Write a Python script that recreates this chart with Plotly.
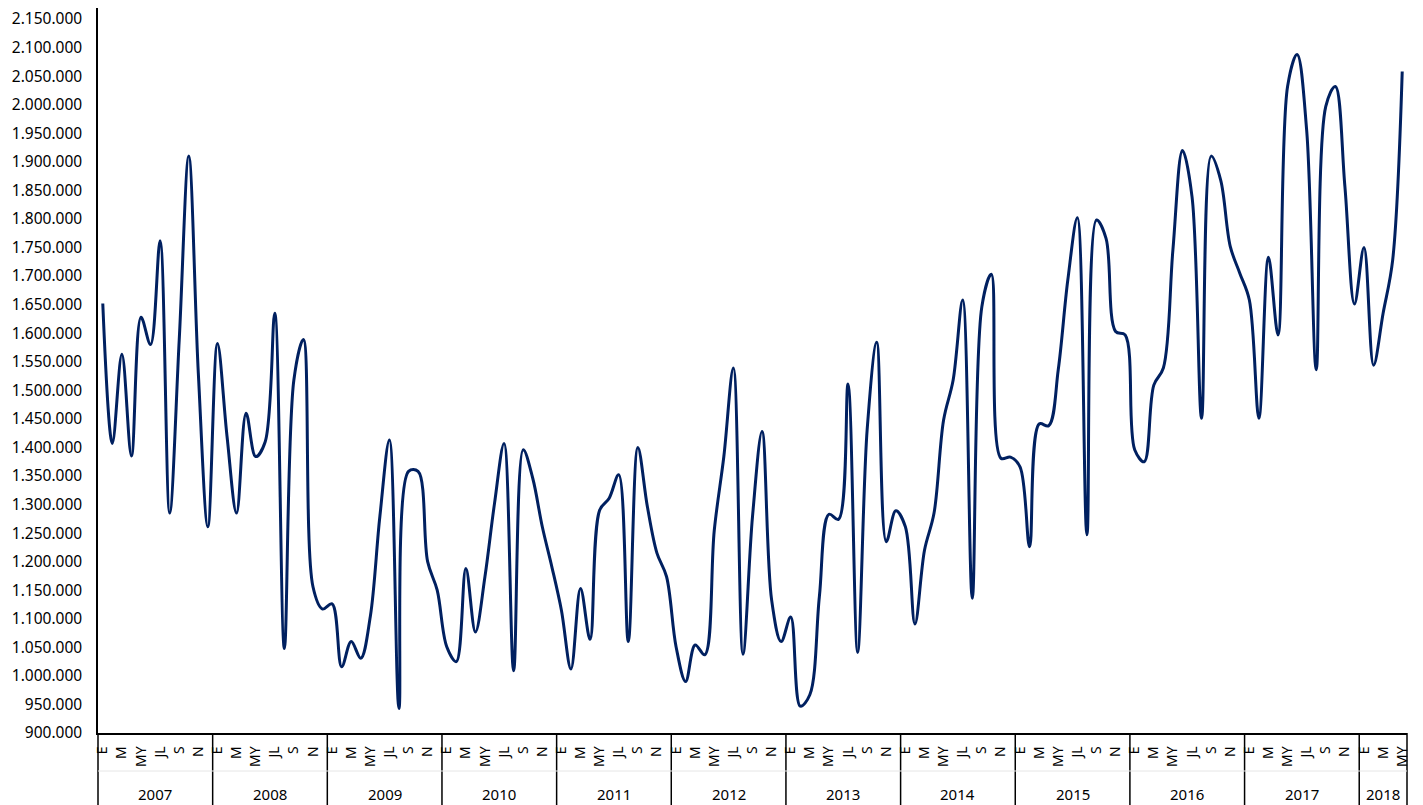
import plotly.graph_objects as go

# Monthly values (Jan 2007 - May 2018)
years = [2007, 2008, 2009, 2010, 2011, 2012, 2013, 2014, 2015, 2016, 2017, 2018]
month_labels = ["E", "F", "M", "A", "MY", "JN", "JL", "AG", "S", "O", "N", "D"]

values_2007 = [1652000, 1407000, 1563000, 1385000, 1628000, 1580000, 1762000, 1285000, 1588000, 1910000, 1530000, 1261000]
values_2008 = [1582000, 1420000, 1285000, 1460000, 1384000, 1410000, 1635000, 1048000, 1518000, 1589000, 1156000, 1117000]
values_2009 = [1126000, 1016000, 1060000, 1031000, 1104000, 1279000, 1413000, 943000, 1358000, 1358000, 1200000, 1150000]
values_2010 = [1051000, 1025000, 1188000, 1077000, 1174000, 1302000, 1407000, 1009000, 1396000, 1346000, 1261000, 1191000]
values_2011 = [1115000, 1012000, 1153000, 1064000, 1290000, 1311000, 1352000, 1060000, 1400000, 1296000, 1215000, 1174000]
values_2012 = [1051000, 990000, 1054000, 1037000, 1255000, 1384000, 1539000, 1038000, 1279000, 1428000, 1133000, 1060000]
values_2013 = [1103000, 947000, 967000, 1139000, 1283000, 1274000, 1511000, 1041000, 1431000, 1584000, 1235000, 1289000]
values_2014 = [1261000, 1091000, 1220000, 1285000, 1448000, 1518000, 1658000, 1136000, 1646000, 1703000, 1381000, 1383000]
values_2015 = [1366000, 1226000, 1441000, 1438000, 1536000, 1693000, 1802000, 1247000, 1798000, 1766000, 1603000, 1597000]
values_2016 = [1396000, 1375000, 1509000, 1539000, 1746000, 1920000, 1839000, 1451000, 1910000, 1868000, 1752000, 1705000]
values_2017 = [1658000, 1451000, 1733000, 1597000, 2032000, 2088000, 1955000, 1536000, 1997000, 2032000, 1857000, 1651000]
values_2018 = [1750000, 1544000, 1635000, 1728000, 2058000]

yearly_values = [
    values_2007, values_2008, values_2009, values_2010, values_2011, values_2012,
    values_2013, values_2014, values_2015, values_2016, values_2017, values_2018,
]

y_ticks = list(range(900000, 2150001, 50000))

# Flatten into one series on a month index
x_idx, values, tick_text = [], [], []
year_centers, year_bounds = [], []
for year, vals in zip(years, yearly_values):
    start = len(values)
    for m, v in enumerate(vals):
        x_idx.append(len(values))
        values.append(v)
        tick_text.append(month_labels[m])
    year_centers.append((start + len(values) - 1) / 2)
    year_bounds.append(start - 0.5)

n = len(values)
tick_vals = [i for i in x_idx if i % 2 == 0]

# the page body adds an 8px offset, so the figure is 8px smaller than the window
W, H = 1415, 797
margin = dict(l=90, r=16, t=0, b=72)
plot_h = H - margin["t"] - margin["b"]
bottom = -margin["b"] / plot_h

fig = go.Figure()
fig.add_trace(
    go.Scatter(
        x=x_idx,
        y=values,
        mode="lines",
        line=dict(color="#002060", width=3, shape="spline", smoothing=1),
        hoverinfo="y",
    )
)

# Year separators, outer edges and the faint row line
shapes = []
for b in year_bounds[1:]:
    shapes.append(dict(type="line", xref="x", yref="paper", x0=b, x1=b, y0=0, y1=bottom,
                       line=dict(color="black", width=1.5)))
for xp in (0, 1):
    shapes.append(dict(type="line", xref="paper", yref="paper", x0=xp, x1=xp, y0=0, y1=bottom,
                       line=dict(color="black", width=1.5)))
shapes.append(dict(type="line", xref="paper", yref="paper", x0=0, x1=1,
                   y0=-38 / plot_h, y1=-38 / plot_h, line=dict(color="#e6e6e6", width=1)))

annotations = [
    dict(x=c, y=-61 / plot_h, xref="x", yref="paper", text=str(yr), showarrow=False,
         font=dict(size=15, color="black"), xanchor="center", yanchor="middle")
    for yr, c in zip(years, year_centers)
]

fig.update_layout(
    width=W,
    height=H,
    margin=margin,
    separators=",.",
    plot_bgcolor="white",
    paper_bgcolor="white",
    showlegend=False,
    font=dict(family="Noto Sans, Open Sans, sans-serif", color="black"),
    shapes=shapes,
    annotations=annotations,
)
fig.update_xaxes(
    range=[-0.5, n - 0.5],
    tickvals=tick_vals,
    ticktext=[tick_text[i] for i in tick_vals],
    tickangle=-90,
    tickfont=dict(size=14),
    ticklabelstandoff=6,
    showline=True,
    linecolor="black",
    linewidth=1.5,
    ticks="",
    showgrid=False,
    zeroline=False,
    automargin=False,
)
fig.update_yaxes(
    range=[900000, 2169300],
    tickvals=y_ticks,
    tickformat=",d",
    tickfont=dict(size=15.5),
    ticklabelstandoff=11,
    ticklabeloverflow="allow",
    showline=True,
    linecolor="black",
    linewidth=1.5,
    ticks="",
    showgrid=False,
    zeroline=False,
    automargin=False,
)

fig.write_html("out.html")
